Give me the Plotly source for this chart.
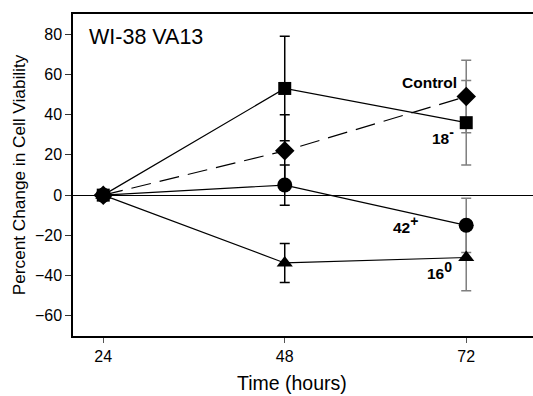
import plotly.graph_objects as go

time = [24, 48, 72]
control = [0, 22, 49]
control_err = [0, 18, 18]
s18 = [0, 53, 36]
s18_err = [0, 26, 21]
s42 = [0, 5, -15]
s42_err = [0, 10, 13.5]
s16 = [0, -33.7, -31]
s16_err = [0, 9.7, 16.5]

series = [
    ("Control", control, control_err, "diamond", "dash"),
    ("18-", s18, s18_err, "square", "solid"),
    ("42+", s42, s42_err, "circle", "solid"),
    ("16 0", s16, s16_err, "triangle-up", "solid"),
]

fig = go.Figure()

# error bars: black at 48 h, grey at 72 h
err_colors = {48: "#000000", 72: "#7f7f7f"}
for xi, col in err_colors.items():
    idx = time.index(xi)
    fig.add_trace(go.Scatter(
        x=[xi] * len(series),
        y=[s[1][idx] for s in series],
        mode="markers",
        marker=dict(size=1, color="rgba(0,0,0,0)"),
        error_y=dict(type="data", array=[s[2][idx] for s in series],
                     visible=True, color=col, thickness=1.5, width=5),
        showlegend=False, hoverinfo="skip",
    ))

sizes = {"diamond": 15, "square": 13, "circle": 15, "triangle-up": 14}
for name, vals, err, sym, dash in series:
    fig.add_trace(go.Scatter(
        x=time, y=vals, mode="lines+markers", name=name,
        line=dict(color="black", width=1.2, dash="20px,9px" if dash == "dash" else "solid"),
        marker=dict(symbol=sym, size=sizes[sym], color="black"),
        showlegend=False,
    ))

FAM = "Liberation Sans, Arial"
lab_font = dict(family=FAM, size=15.5, color="black")
sup = lambda s: '<sup><span style="font-size:14px">%s</span></sup>' % s
labels = [
    ("<b>Control</b>", 67.2, 56.1),
    ("<b>18" + sup("-") + "</b>", 68.9, 29.5),
    ("<b>42" + sup("+") + "</b>", 64.0, -14.5),
    ("<b>16" + sup("0") + "</b>", 68.5, -37.5),
]
for txt, x, y in labels:
    fig.add_annotation(x=x, y=y, xref="x", yref="y", text=txt, showarrow=False,
                       font=lab_font, xanchor="center", yanchor="middle")

fig.add_annotation(x=21.8, y=78.5, xref="x", yref="y", text="WI-38 VA13", showarrow=False,
                   font=dict(family=FAM, size=21.5, color="black"),
                   xanchor="left", yanchor="middle")
fig.add_annotation(x=0.476, y=-0.146, xref="paper", yref="paper", text="Time (hours)",
                   showarrow=False, font=dict(family=FAM, size=19.5, color="black"),
                   xanchor="center", yanchor="middle")
fig.add_annotation(x=-0.117, y=0.5, xref="paper", yref="paper",
                   text="Percent Change in Cell Viability", textangle=-90,
                   showarrow=False, font=dict(family=FAM, size=17.2, color="black"),
                   xanchor="center", yanchor="middle")

fig.update_layout(
    width=533, height=396,
    margin=dict(l=73, r=0, t=14, b=60),
    paper_bgcolor="white", plot_bgcolor="white",
    font=dict(family=FAM, size=16, color="black"),
    xaxis=dict(range=[20, 80.83], tickvals=time, ticks="outside", ticklen=5,
               tickcolor="#555", showline=True, linecolor="black", linewidth=1.5,
               mirror=True, showgrid=False, zeroline=False,
               tickfont=dict(size=16)),
    yaxis=dict(range=[-70, 90], tickvals=[-60, -40, -20, 0, 20, 40, 60, 80],
               ticks="outside", ticklen=6, tickcolor="#333", showline=True,
               linecolor="black", linewidth=1.5, showgrid=False,
               zeroline=True, zerolinecolor="black", zerolinewidth=1,
               tickfont=dict(size=16)),
)

fig.write_html("out.html")
